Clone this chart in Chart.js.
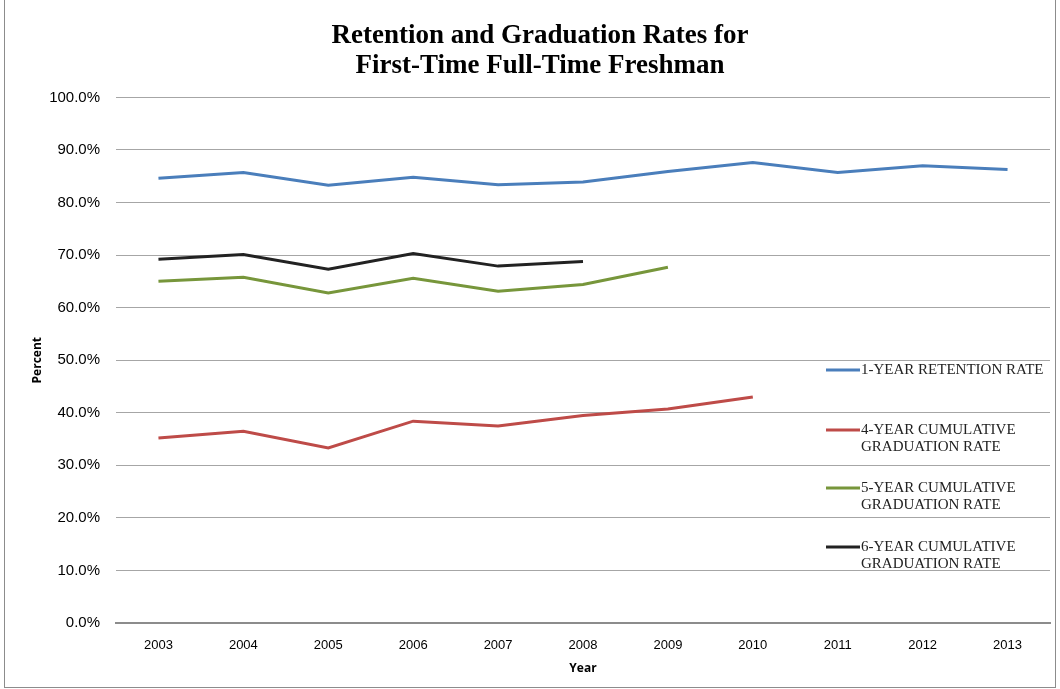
<!DOCTYPE html>
<html>
<head>
<meta charset="utf-8">
<script src="https://cdn.jsdelivr.net/npm/chart.js@4/dist/chart.umd.min.js"></script>
<style>
  html, body { margin: 0; padding: 0; background: #fff; }
  #wrap { position: relative; width: 1060px; height: 689px; }
  #frame { position: absolute; left: 4px; top: 0; width: 1050px; height: 687px; border: 1px solid #8c8c8c; border-top: none; pointer-events: none; }
</style>
</head>
<body>
<div id="wrap">
  <canvas id="chart" width="1060" height="689"></canvas>
  <div id="frame"></div>
</div>
<script>
// data
const years = ["2003", "2004", "2005", "2006", "2007", "2008", "2009", "2010", "2011", "2012", "2013"];
const retention1 = [84.6, 85.7, 83.3, 84.8, 83.4, 83.9, 85.9, 87.6, 85.7, 87.0, 86.3];
const grad4 = [35.2, 36.5, 33.3, 38.4, 37.5, 39.5, 40.7, 43.0, null, null, null];
const grad5 = [65.0, 65.8, 62.8, 65.6, 63.1, 64.4, 67.7, null, null, null, null];
const grad6 = [69.2, 70.1, 67.3, 70.3, 67.9, 68.8, null, null, null, null, null];
const seriesNames = [
    ["1-YEAR RETENTION RATE"],
    ["4-YEAR CUMULATIVE", "GRADUATION RATE"],
    ["5-YEAR CUMULATIVE", "GRADUATION RATE"],
    ["6-YEAR CUMULATIVE", "GRADUATION RATE"]
];
const seriesColors = ["#4a7ebb", "#be4b48", "#77963b", "#222222"];

function makeSet(i, data) {
    return {
        label: seriesNames[i].join(" "),
        data: data,
        borderColor: seriesColors[i],
        backgroundColor: seriesColors[i],
        borderWidth: 3,
        pointRadius: 0,
        tension: 0,
        spanGaps: false
    };
}

// legend drawn inside the plot, Excel style
const insideLegend = {
    id: "insideLegend",
    afterDraw(chart) {
        const ctx = chart.ctx;
        const rows = [370, 430, 488, 547];
        ctx.save();
        ctx.font = "15px 'Liberation Serif', serif";
        ctx.textBaseline = "middle";
        ctx.textAlign = "left";
        chart.data.datasets.forEach((ds, i) => {
            const y = rows[i];
            ctx.strokeStyle = ds.borderColor;
            ctx.lineWidth = 3;
            ctx.beginPath();
            ctx.moveTo(826, y);
            ctx.lineTo(860, y);
            ctx.stroke();
            ctx.fillStyle = "#222";
            seriesNames[i].forEach((t, k) => ctx.fillText(t, 861, y + k * 17));
        });
        ctx.restore();
    }
};

new Chart(document.getElementById("chart"), {
    type: "line",
    data: {
        labels: years,
        datasets: [makeSet(0, retention1), makeSet(1, grad4), makeSet(2, grad5), makeSet(3, grad6)]
    },
    options: {
        responsive: false,
        animation: false,
        layout: { padding: { left: 30, right: 10, top: 21, bottom: 0 } },
        plugins: {
            legend: { display: false },
            tooltip: { enabled: false },
            title: {
                display: true,
                text: ["Retention and Graduation Rates for", "First-Time Full-Time Freshman"],
                color: "#000",
                font: { family: "'Liberation Serif', serif", size: 27, weight: "bold", lineHeight: 1.1 },
                padding: { top: 0, bottom: 17 }
            }
        },
        scales: {
            x: {
                offset: true,
                grid: { display: false, drawTicks: false },
                border: { color: "#8c8c8c", width: 2 },
                ticks: { color: "#000", padding: 15, font: { family: "'Liberation Sans', sans-serif", size: 13 }, maxRotation: 0 },
                title: { display: true, text: "Year", color: "#000", padding: { top: 4, bottom: 13 }, font: { family: "'Open Sans', sans-serif", size: 12, weight: "bold" } },
                afterFit(scale) { scale.height = 66; }
            },
            y: {
                min: 0,
                max: 100,
                grid: { color: "#a6a6a6", lineWidth: 1, drawTicks: false },
                border: { display: false },
                ticks: {
                    stepSize: 10,
                    color: "#000",
                    padding: 16,
                    font: { family: "'Liberation Sans', sans-serif", size: 15 },
                    callback: v => v.toFixed(1) + "%"
                },
                title: { display: true, text: "Percent", color: "#000", padding: 0, font: { family: "'Open Sans', sans-serif", size: 12, weight: "bold" } },
                afterFit(scale) { scale.width = 86; }
            }
        }
    },
    plugins: [insideLegend]
});
</script>
</body>
</html>
